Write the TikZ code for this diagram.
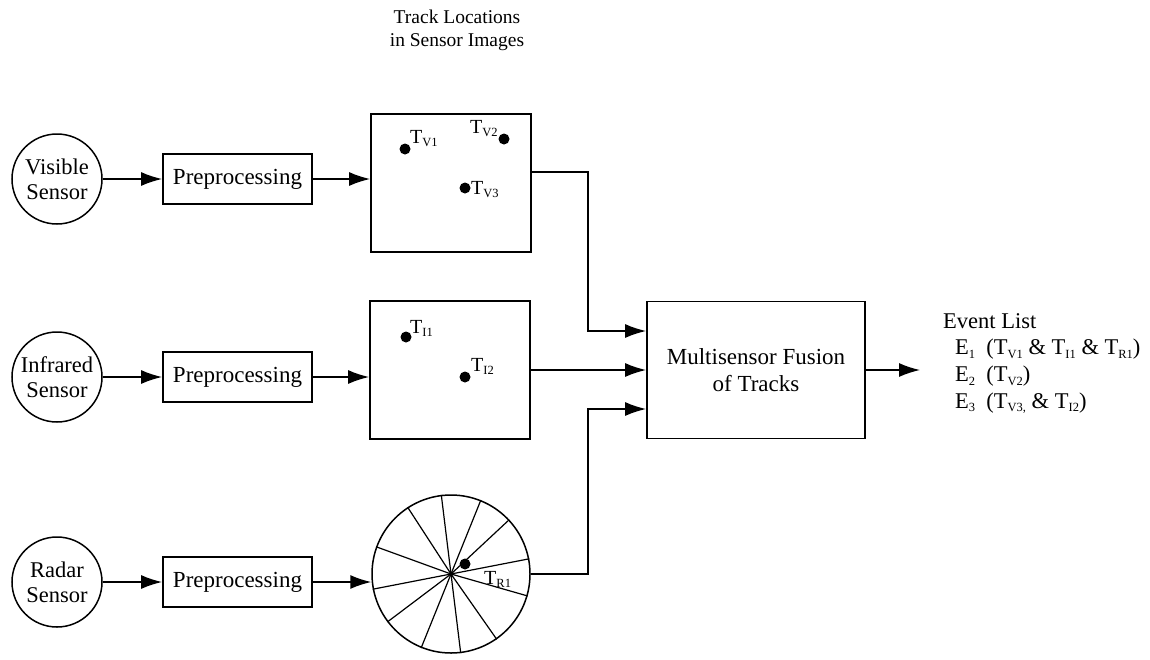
\documentclass[tikz,border=0pt]{standalone}
\usepackage{fontspec}
\setmainfont{Liberation Serif}
\usetikzlibrary{arrows.meta,calc}
\newcommand{\ssub}[1]{\raisebox{-3.5pt}{\fontsize{12.5}{13}\selectfont #1}}
\begin{document}
\begin{tikzpicture}[x=1pt,y=-1pt,
  box/.style={draw,line width=1.8pt,inner sep=0pt},
  sensor/.style={draw,circle,line width=1.5pt,minimum size=90pt,inner sep=0pt,align=center,font=\fontsize{22.5}{25}\selectfont},
  prebox/.style={box,minimum width=149pt,minimum height=50pt,font=\fontsize{23}{26}\selectfont},
  imgbox/.style={box,minimum width=160pt,minimum height=138pt},
  dot/.style={circle,fill,inner sep=0pt,minimum size=11pt},
  tlab/.style={anchor=base west,inner sep=0pt,font=\fontsize{20}{22}\selectfont},
  conn/.style={line width=1.5pt},
  arr/.style={conn,-{Latex[length=21pt,width=14pt]}},
]
\useasboundingbox (0,0) rectangle (1150,659);

% title
\node[anchor=north,inner sep=0pt,align=center,font=\fontsize{19.5}{23}\selectfont] (title) at (457,10) {Track Locations\\in Sensor Images};

% sensors
\node[sensor] (vis) at (57,179) {Visible\\Sensor};
\node[sensor] (ir)  at (57,377) {Infrared\\Sensor};
\node[sensor] (rs)  at (57,582) {Radar\\Sensor};

% preprocessing
\node[prebox] (p1) at (237.5,179) {Preprocessing};
\node[prebox] (p2) at (237.5,377) {Preprocessing};
\node[prebox] (p3) at (237.5,582) {Preprocessing};

% images
\node[imgbox] (img1) at (451,183) {};
\node[imgbox] (img2) at (450,370) {};
\node[draw,circle,line width=1.5pt,minimum size=158pt,inner sep=0pt] (rad) at (451,574) {};
\foreach \a in {97,68,43,11,-16,-55,-83,-112,-143,-169,160,123}
  \draw[line width=1.2pt] (rad.center) -- (rad.\a);

% tracks
\node[dot] (tv1) at (405,149) {};
\node[dot] (tv2) at (504,139) {};
\node[dot] (tv3) at (465,188) {};
\node[dot] (ti1) at (406,337) {};
\node[dot] (ti2) at (465,377) {};
\node[dot] (tr1) at (465,564) {};
\node[tlab] (ltv1) at (410,143) {T\ssub{V1}};
\node[tlab] (ltv2) at (470,133) {T\ssub{V2}};
\node[tlab] (ltv3) at (471,194) {T\ssub{V3}};
\node[tlab] (lti1) at (410,333) {T\ssub{I1}};
\node[tlab] (lti2) at (471,371) {T\ssub{I2}};
\node[tlab] (ltr1) at (484,584) {T\ssub{R1}};

% fusion
\node[box,minimum width=218pt,minimum height=137pt,align=center,font=\fontsize{23}{27}\selectfont] (fus) at (756,370) {Multisensor Fusion\\of Tracks};

% event list
\node[anchor=north west,inner sep=0pt,align=left,font=\fontsize{22.5}{26.7}\selectfont] (ev) at (943,313)
  {Event List\\
   \hspace*{12pt}E\ssub{1}\ \ (T\ssub{V1} \& T\ssub{I1} \& T\ssub{R1})\\
   \hspace*{12pt}E\ssub{2}\ \ (T\ssub{V2})\\
   \hspace*{12pt}E\ssub{3}\ \ (T\ssub{V3,} \& T\ssub{I2})};
\coordinate (out) at (920,370);

% connectors
\draw[arr] (vis.east) -- (p1.west);
\draw[arr] (ir.east) -- (p2.west);
\draw[arr] (rs.east) -- (p3.west);
\draw[arr] (p1.east) -- (p1.east -| img1.west);
\draw[arr] (p2.east) -- (p2.east -| img2.west);
\draw[arr] (p3.east) -- (p3.east -| rad.west);
\draw[arr] ([yshift=11pt]img1.east) -| (588,331) -- (fus.west |- 0,331);
\draw[arr] (img2.east) -- (fus.west);
\draw[arr] (rad.east) -| (588,409) -- (fus.west |- 0,409);
\draw[arr] (fus.east) -- (out);
\end{tikzpicture}
\end{document}
